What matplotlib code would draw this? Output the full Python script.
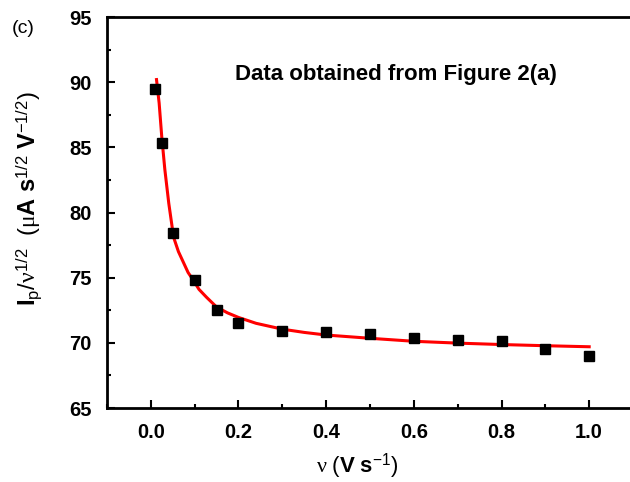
import matplotlib
matplotlib.use('Agg')
import matplotlib.pyplot as plt
from matplotlib.ticker import MultipleLocator

plt.rcParams['font.family'] = ['Liberation Sans', 'DejaVu Sans']
plt.rcParams['mathtext.fontset'] = 'custom'
plt.rcParams['mathtext.rm'] = 'Liberation Sans'
plt.rcParams['mathtext.bf'] = 'Liberation Sans:bold'
plt.rcParams['mathtext.it'] = 'Liberation Serif'

# measured points, scan rate (V/s) vs Ip/v^1/2
scan_rate = [0.01, 0.025, 0.05, 0.1, 0.15, 0.2, 0.3, 0.4, 0.5, 0.6, 0.7, 0.8, 0.9, 1.0]
ip_norm = [89.45, 85.35, 78.4, 74.8, 72.5, 71.5, 70.9, 70.85, 70.7, 70.4, 70.25, 70.15, 69.55, 69.0]

# fitted curve
fit_x = [0.013, 0.019, 0.025, 0.032, 0.041, 0.052, 0.063, 0.074, 0.085, 0.097, 0.11, 0.127,
         0.15, 0.175, 0.2, 0.24, 0.3, 0.35, 0.4, 0.5, 0.6, 0.7, 0.8, 0.9, 1.0]
fit_y = [90.2, 88.4, 85.8, 83.3, 80.7, 78.1, 77.0, 76.2, 75.4, 74.8, 74.1, 73.5,
         72.75, 72.3, 71.95, 71.5, 71.05, 70.8, 70.6, 70.35, 70.12, 69.98, 69.87, 69.78, 69.7]

fig = plt.figure(figsize=(6.3, 4.82), dpi=100)
ax = fig.add_axes([0.1698, 0.1535, 0.835, 0.8112])

ax.plot(fit_x, fit_y, color='#ff0000', lw=2.2, solid_joinstyle='round', zorder=2)
ax.plot(scan_rate, ip_norm, 's', color='black', ms=6.5, zorder=3)

ax.set_xlim(-0.1, 1.1)
ax.set_ylim(65, 95)
ax.xaxis.set_major_locator(MultipleLocator(0.2))
ax.xaxis.set_minor_locator(MultipleLocator(0.1))
ax.yaxis.set_major_locator(MultipleLocator(5))
ax.yaxis.set_minor_locator(MultipleLocator(2.5))
ax.xaxis.set_major_formatter(plt.FormatStrFormatter('%.1f'))

ax.tick_params(which='both', direction='in', top=False, right=False, width=1.5)
ax.tick_params(which='major', length=6, pad=11, labelsize=14.5)
ax.tick_params(which='minor', length=3)
for lab in ax.get_xticklabels() + ax.get_yticklabels():
    lab.set_fontweight('bold')
for s in ax.spines.values():
    s.set_linewidth(2)

ax.set_xlabel(r'$\nu\ (\mathbf{V\ s}^{\mathrm{-1}})$', fontsize=16)
ax.xaxis.set_label_coords(0.475, -0.11)
ax.set_ylabel(r'$\mathbf{I}_{\mathrm{p}}/\nu^{\mathrm{1/2}}\ \ (\mu\mathbf{A\ s}^{\mathrm{1/2}}\ \mathbf{V}^{\mathrm{-1/2}})$',
              fontsize=17)
ax.yaxis.set_label_coords(-0.12, 0.535)

ax.text(0.549, 0.852, 'Data obtained from Figure 2(a)', transform=ax.transAxes,
        ha='center', va='center', fontsize=16, fontweight='bold')
fig.text(0.018, 0.94, '(c)', fontsize=14, ha='left', va='center')

fig.savefig('out.png', dpi=100)
